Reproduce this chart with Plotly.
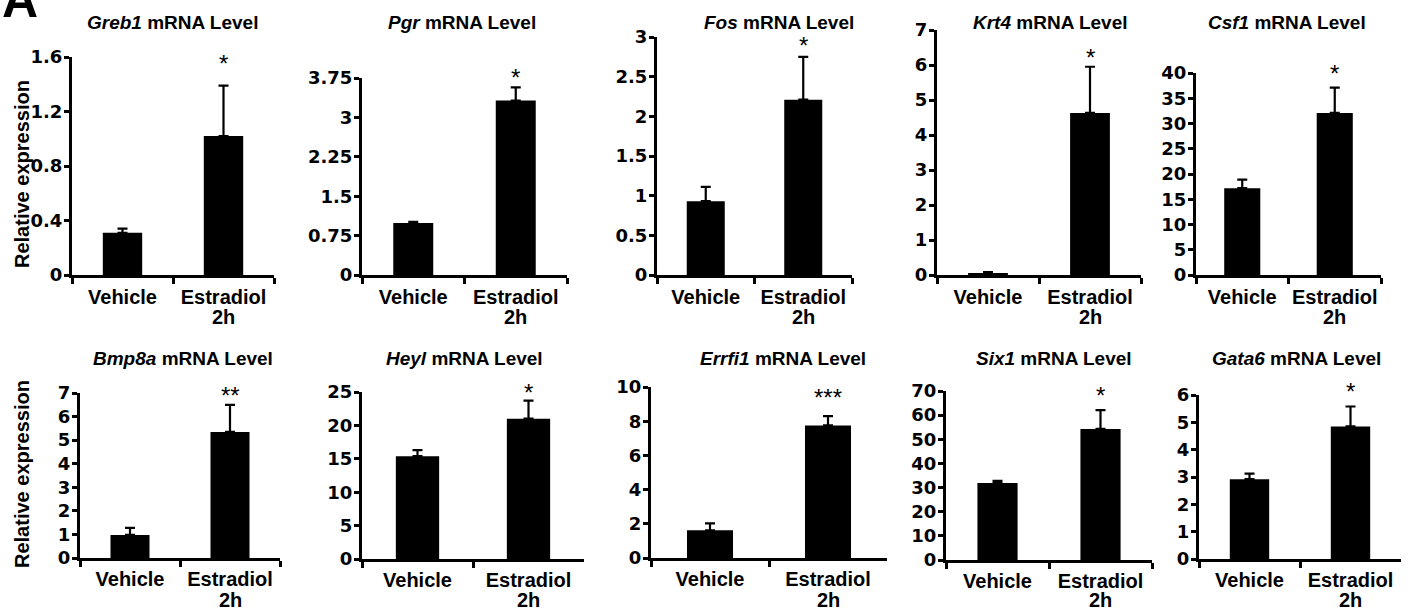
import plotly.graph_objects as go

W, H = 1414, 613

# ---------------- data ----------------
categories = ["Vehicle", "Estradiol"]
genes = ["Greb1", "Pgr", "Fos", "Krt4", "Csf1", "Bmp8a", "Heyl", "Errfi1", "Six1", "Gata6"]

greb1_mean = [0.31, 1.02]
greb1_err = [0.03, 0.37]
pgr_mean = [0.99, 3.32]
pgr_err = [0.02, 0.25]
fos_mean = [0.93, 2.21]
fos_err = [0.18, 0.54]
krt4_mean = [0.05, 4.63]
krt4_err = [0.03, 1.32]
csf1_mean = [17.2, 32.1]
csf1_err = [1.7, 5.0]
bmp8a_mean = [0.98, 5.35]
bmp8a_err = [0.30, 1.15]
heyl_mean = [15.4, 21.0]
heyl_err = [0.9, 2.7]
errfi1_mean = [1.62, 7.75]
errfi1_err = [0.40, 0.55]
six1_mean = [31.9, 54.3]
six1_err = [0.9, 7.8]
gata6_mean = [2.92, 4.85]
gata6_err = [0.20, 0.73]

significance = ["*", "*", "*", "*", "*", "**", "*", "***", "*", "*"]

greb1_ticks = [0, 0.4, 0.8, 1.2, 1.6]
greb1_ticklabels = ["0", "0.4", "0.8", "1.2", "1.6"]
pgr_ticks = [0, 0.75, 1.5, 2.25, 3, 3.75]
pgr_ticklabels = ["0", "0.75", "1.5", "2.25", "3", "3.75"]
fos_ticks = [0, 0.5, 1, 1.5, 2, 2.5, 3]
fos_ticklabels = ["0", "0.5", "1", "1.5", "2", "2.5", "3"]
krt4_ticks = [0, 1, 2, 3, 4, 5, 6, 7]
csf1_ticks = [0, 5, 10, 15, 20, 25, 30, 35, 40]
bmp8a_ticks = [0, 1, 2, 3, 4, 5, 6, 7]
heyl_ticks = [0, 5, 10, 15, 20, 25]
errfi1_ticks = [0, 2, 4, 6, 8, 10]
six1_ticks = [0, 10, 20, 30, 40, 50, 60, 70]
gata6_ticks = [0, 1, 2, 3, 4, 5, 6]

means = [greb1_mean, pgr_mean, fos_mean, krt4_mean, csf1_mean,
         bmp8a_mean, heyl_mean, errfi1_mean, six1_mean, gata6_mean]
errs = [greb1_err, pgr_err, fos_err, krt4_err, csf1_err,
        bmp8a_err, heyl_err, errfi1_err, six1_err, gata6_err]
ticks = [greb1_ticks, pgr_ticks, fos_ticks, krt4_ticks, csf1_ticks,
         bmp8a_ticks, heyl_ticks, errfi1_ticks, six1_ticks, gata6_ticks]
ticklabels = [greb1_ticklabels, pgr_ticklabels, fos_ticklabels,
              [str(t) for t in krt4_ticks], [str(t) for t in csf1_ticks],
              [str(t) for t in bmp8a_ticks], [str(t) for t in heyl_ticks],
              [str(t) for t in errfi1_ticks], [str(t) for t in six1_ticks],
              [str(t) for t in gata6_ticks]]

# ---------------- layout (pixel boxes: left, right, top, bottom) ----------------
boxes = [
    (72, 274, 57, 275), (362, 567, 78, 275), (657, 852, 37, 275),
    (937, 1141, 30, 275), (1196, 1381, 73, 275),
    (80, 280, 393, 558), (362, 584, 392, 559), (651, 887, 387, 558),
    (946, 1152, 391, 560), (1199, 1401, 395, 559),
]
title_cx = [172, 462, 779, 1050, 1287, 183, 465, 783, 1054, 1296]
title_cy = [22, 22, 22, 22, 22, 358, 358, 358, 358, 358]
star_px = [58, 72, 40, 52, 68, 390, 387, 392, 390, 386]

BLACK = "black"
fig = go.Figure()
layout = dict(
    template="none",
    width=W, height=H, margin=dict(l=0, r=0, t=0, b=0, pad=0, autoexpand=False),
    paper_bgcolor="white", plot_bgcolor="white", showlegend=False,
)
annotations = []

def px_x(p):
    return p / W

def px_y(p):
    return 1 - p / H

for i, g in enumerate(genes):
    n = "" if i == 0 else str(i + 1)
    xa, ya = "x" + n, "y" + n
    l, r, t, b = boxes[i]
    ymax = ticks[i][-1]
    top_row = i < 5
    fig.add_trace(go.Bar(
        x=categories, y=means[i], xaxis=xa, yaxis=ya, width=0.39,
        marker=dict(color=BLACK, line=dict(width=0)),
        error_y=dict(type="data", symmetric=False, array=errs[i],
                     arrayminus=[0, 0], color=BLACK, thickness=2.2, width=5),
        hoverinfo="skip",
    ))
    layout["xaxis" + n] = dict(
        domain=[px_x(l), px_x(r)], anchor=ya, type="category", automargin=False,
        categoryorder="array", categoryarray=categories, tickangle=0,
        range=[-0.5, 1.5], showline=True, linecolor=BLACK, linewidth=3,
        ticks="outside", tickson="boundaries", ticklen=6, tickwidth=2.5,
        tickcolor=BLACK, showgrid=False, zeroline=False,
        tickfont=dict(family="Liberation Sans", size=20, color=BLACK, weight="bold"),
        ticklabelstandoff=2 if top_row else 1,
    )
    layout["yaxis" + n] = dict(
        domain=[px_y(b), px_y(t)], anchor=xa, range=[0, ymax], automargin=False,
        tickvals=ticks[i], ticktext=ticklabels[i],
        showline=True, linecolor=BLACK, linewidth=3,
        ticks="outside", ticklen=5, tickwidth=2.5, tickcolor=BLACK,
        showgrid=False, zeroline=False,
        tickfont=dict(family="DejaVu Sans", size=18, color=BLACK, weight="bold"),
        ticklabelstandoff=-2,
    )
    # title
    annotations.append(dict(
        text="<i>%s</i> mRNA Level" % g, xref="paper", yref="paper",
        x=px_x(title_cx[i]), y=px_y(title_cy[i]), xanchor="center", yanchor="middle",
        showarrow=False, font=dict(family="Liberation Sans", size=19, color=BLACK, weight="bold"),
    ))
    # significance stars
    annotations.append(dict(
        text=significance[i], xref=xa, yref="paper", x="Estradiol", y=px_y(star_px[i]),
        xanchor="center", yanchor="middle", yshift=-5, showarrow=False,
        font=dict(family="Liberation Sans", size=24, color=BLACK),
    ))
    # second line of the estradiol label
    annotations.append(dict(
        text="2h", xref=xa, yref="paper", x="Estradiol",
        y=px_y(b + 42 if top_row else 600), xanchor="center", yanchor="middle",
        showarrow=False, font=dict(family="Liberation Sans", size=20, color=BLACK, weight="bold"),
    ))

# y-axis titles
for cy in [174, 474]:
    annotations.append(dict(
        text="Relative expression", xref="paper", yref="paper",
        x=px_x(22), y=px_y(cy), xanchor="center", yanchor="middle", textangle=-90,
        showarrow=False, font=dict(family="Liberation Sans", size=20, color=BLACK, weight="bold"),
    ))

# panel letter
annotations.append(dict(
    text="A", xref="paper", yref="paper", x=px_x(0), y=px_y(30),
    xanchor="left", yanchor="bottom", showarrow=False,
    font=dict(family="Liberation Sans", size=50, color=BLACK, weight="bold"),
))

layout["annotations"] = annotations
fig.update_layout(**layout)
fig.write_html("out.html")
